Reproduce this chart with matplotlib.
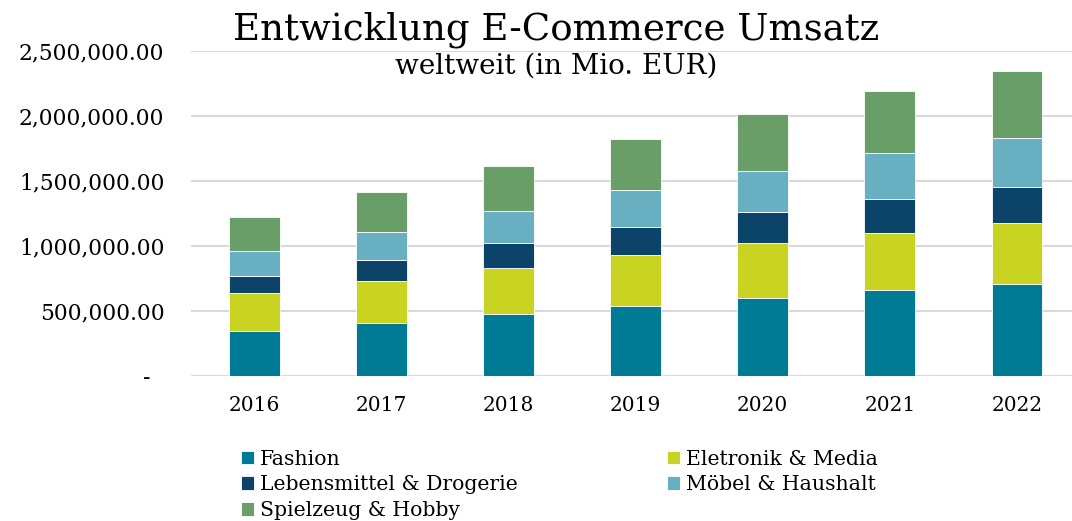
import matplotlib
matplotlib.use("Agg")
import matplotlib.pyplot as plt
import numpy as np
from matplotlib.ticker import FuncFormatter

# Umsatz nach Kategorie (in Mio. EUR)
years = ["2016", "2017", "2018", "2019", "2020", "2021", "2022"]
fashion = [344000, 405000, 472000, 539000, 601000, 658000, 709000]
elektronik = [289000, 326000, 356000, 388000, 419000, 443000, 465000]
lebensmittel = [136000, 161000, 190000, 216000, 238000, 262000, 282000]
moebel = [193000, 216000, 249000, 285000, 318000, 350000, 372000]
spielzeug = [263000, 305000, 348000, 392000, 439000, 477000, 516000]

series = [
    ("Fashion", fashion, "#007B96"),
    ("Eletronik & Media", elektronik, "#C9D422"),
    ("Lebensmittel & Drogerie", lebensmittel, "#0C4369"),
    ("Möbel & Haushalt", moebel, "#67AFC1"),
    ("Spielzeug & Hobby", spielzeug, "#6A9E69"),
]

plt.rcParams["font.family"] = ["DejaVu Serif"]

fig = plt.figure(figsize=(10.72, 5.21), dpi=100)
ax = fig.add_axes([0.178, 0.279, 0.83, 0.623])

x = np.arange(len(years))
bottom = np.zeros(len(years))
handles = {}
for name, vals, col in series:
    b = ax.bar(x, vals, width=0.4, bottom=bottom, color=col,
               edgecolor="#FFFFFF", linewidth=0.6, label=name, zorder=3)
    handles[name] = b
    bottom += np.array(vals)

ax.set_xlim(-0.5, len(years) - 0.5)
ax.set_ylim(0, 2500000)
ax.set_yticks(np.arange(0, 2500001, 500000))
ax.yaxis.set_major_formatter(
    FuncFormatter(lambda v, p: "-  " if v == 0 else f"{v:,.2f}"))
ax.set_xticks(x)
ax.set_xticklabels(years)

ax.grid(axis="y", color="#D9D9D9", linewidth=1.5, zorder=0)
for s in ax.spines.values():
    s.set_visible(False)
ax.tick_params(axis="both", length=0, colors="#000000")
ax.tick_params(axis="y", pad=19, labelsize=15.7)
ax.tick_params(axis="x", pad=15, labelsize=14.5)

fig.text(0.519, 0.925, "Entwicklung E-Commerce Umsatz", ha="center",
         va="baseline", fontsize=26.7)
fig.text(0.519, 0.858, "weltweit (in Mio. EUR)", ha="center",
         va="baseline", fontsize=20)

order = ["Fashion", "Lebensmittel & Drogerie", "Spielzeug & Hobby",
         "Eletronik & Media", "Möbel & Haushalt"]
fig.legend([handles[n] for n in order], order, ncol=2,
           loc="upper left", bbox_to_anchor=(0.2245, 0.137),
           frameon=False, fontsize=14.7, handlelength=0.65,
           handleheight=0.65, handletextpad=0.3, labelspacing=0.33,
           columnspacing=7.3, borderpad=0, borderaxespad=0)

fig.savefig("out.png", dpi=100)
